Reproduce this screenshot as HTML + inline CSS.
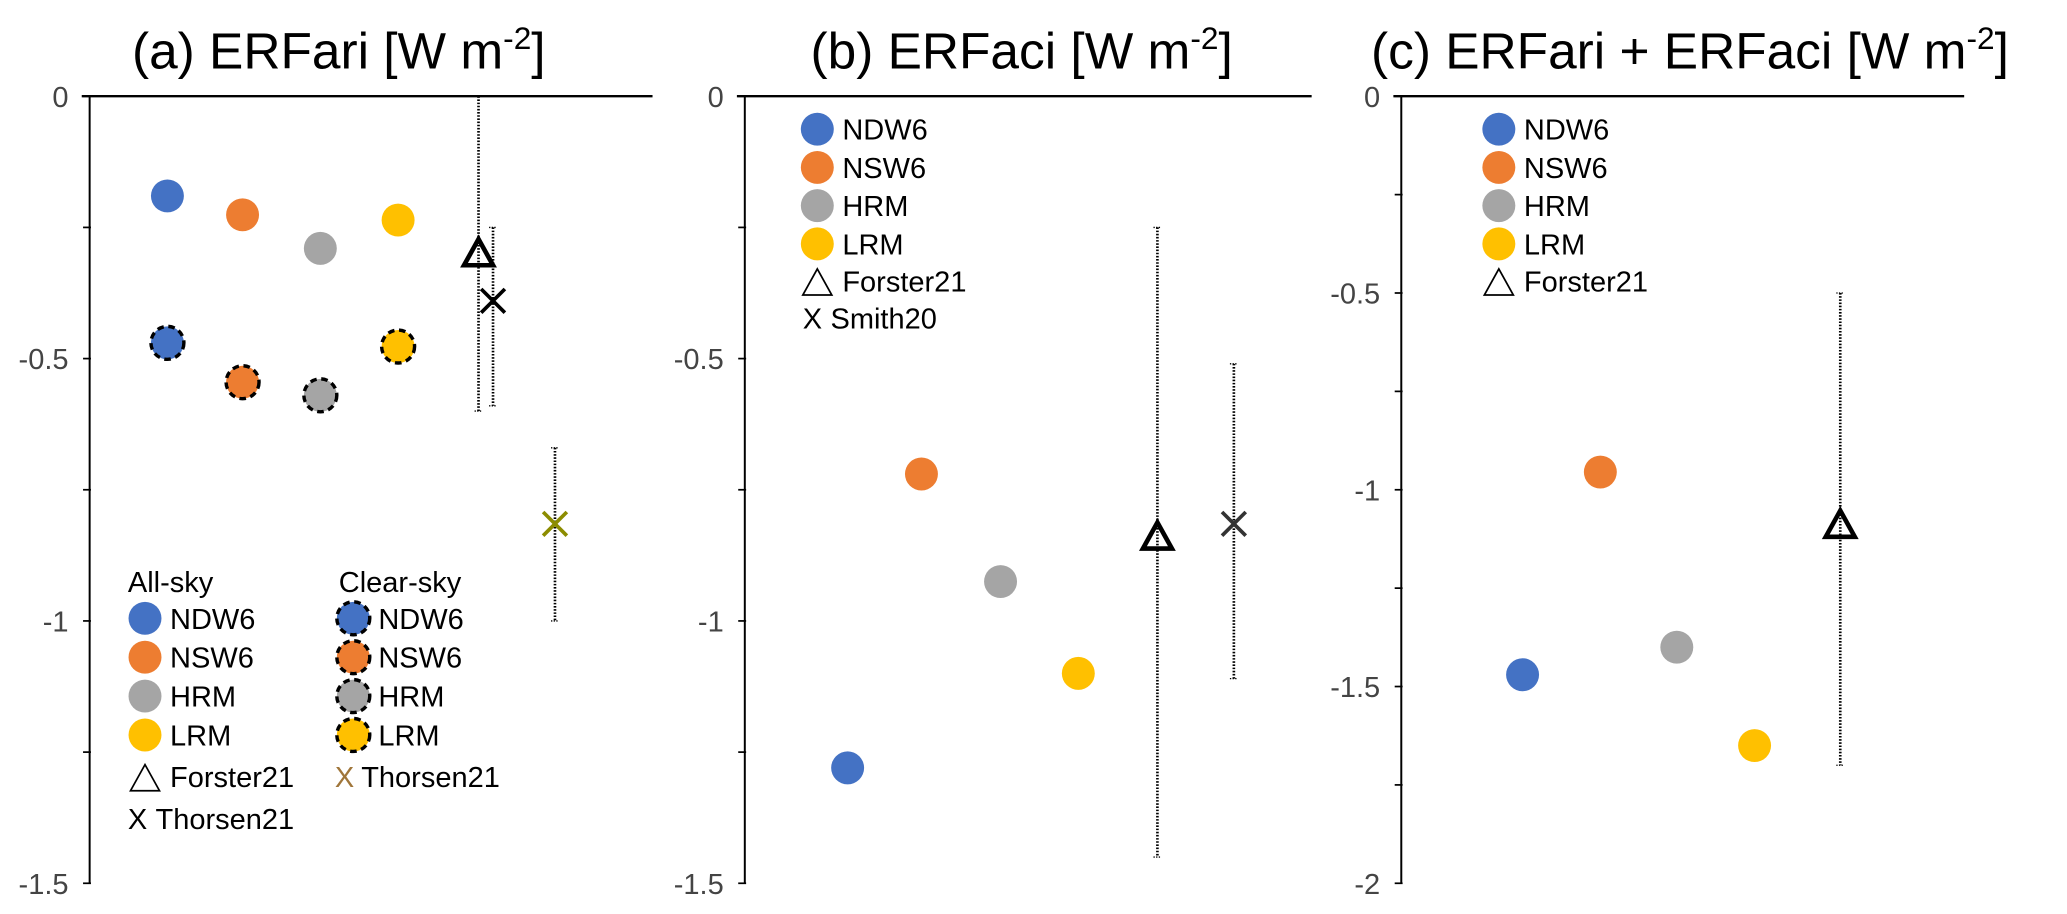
<!DOCTYPE html>
<html><head><meta charset="utf-8"><style>
html,body{margin:0;padding:0;background:#fff;}
svg{display:block;font-family:"Liberation Sans",Arial,sans-serif;}
</style></head><body>
<svg id="chart" width="2067" height="914" viewBox="0 0 1568 693.3" preserveAspectRatio="none" xmlns="http://www.w3.org/2000/svg">
</svg>
<script>
// ---- data ----
const models = ["NDW6","NSW6","HRM","LRM"];
const modelColors = ["#4472C4","#ED7D31","#A5A5A5","#FFC000"];
const ariAllSky = [-0.19,-0.226,-0.29,-0.236];
const ariClearSky = [-0.47,-0.545,-0.57,-0.477];
const ariForster = [-0.30,0.0,-0.60];   // value, hi, lo
const ariThorsenBlack = [-0.39,-0.25,-0.59];
const ariThorsenOlive = [-0.815,-0.67,-1.0];
const aciModels = [-1.28,-0.72,-0.925,-1.10];
const aciForster = [-0.84,-0.25,-1.45];
const aciSmith = [-0.815,-0.51,-1.11];
const totModels = [-1.47,-0.955,-1.40,-1.65];
const totForster = [-1.09,-0.5,-1.7];
const ticksAB = ["0","-0.5","-1","-1.5"];
const tickValsAB = [0,-0.5,-1,-1.5];
const ticksC = ["0","-0.5","-1","-1.5","-2"];
const tickValsC = [0,-0.5,-1,-1.5,-2];

const NS="http://www.w3.org/2000/svg";
const svg=document.getElementById('chart');
function mk(tag,attrs,parent){const e=document.createElementNS(NS,tag);for(const k in attrs)e.setAttribute(k,attrs[k]);(parent||svg).appendChild(e);return e;}

const yTop=73,yBot=670;
function yScale(min){return v=>yTop+(v/min)*(yBot-yTop);}

function panel(cfg){
  const g=mk('g',{});
  
  
  const y=yScale(cfg.min);
  const t=mk('text',{x:cfg.titleX,y:52,'font-size':39,'text-anchor':'middle',fill:'#000'},g);
  
  
  t.textContent=cfg.title+' [W m';
  const sup=mk('tspan',{'font-size':24,dy:-15},t);sup.textContent='-2';
  const cl=mk('tspan',{dy:15},t);cl.textContent=']';
  const tl=mk('line',{x1:cfg.ax-6,x2:cfg.right,y1:yTop,y2:yTop,stroke:'#000','stroke-width':1.8},g);
  
  
  const yl=mk('line',{x1:cfg.ax,x2:cfg.ax,y1:yTop,y2:yBot,stroke:'#000','stroke-width':1.5},g);
  
  
  for(let v=0;v>=cfg.min-1e-9;v-=0.25){
    const tk=mk('line',{x1:cfg.ax-5,x2:cfg.ax+1,y1:y(v),y2:y(v),stroke:'#000','stroke-width':1.3},g);
    
    
  }
  cfg.tickVals.forEach((v,i)=>{
    const tx=mk('text',{x:cfg.ax-16,y:y(v)+8,'font-size':22,'text-anchor':'end',fill:'#444'},g);
    
    
    tx.textContent=cfg.tickLabels[i];
  });
  return {g,y};
}
function errbar(g,x,y,d,name){
  const l=mk('line',{x1:x,x2:x,y1:y(d[1]),y2:y(d[2]),stroke:'#000','stroke-width':2,'stroke-dasharray':'1.2 1.2'},g);
  
  
  [d[1],d[2]].forEach(v=>{const c=mk('line',{x1:x-3,x2:x+3,y1:y(v),y2:y(v),stroke:'#000','stroke-width':1,'stroke-dasharray':'1 1'},g);
    
    });
}
function circle(g,x,cy,color,dashed,name){
  const c=mk('circle',{cx:x,cy:cy,r:12.5,fill:color},g);
  
  
  if(dashed){c.setAttribute('stroke','#000');c.setAttribute('stroke-width',2.6);c.setAttribute('stroke-dasharray','5 3.5');}
}
function tri(g,x,cy,name,sw,s){
  s=s||11;
  const p=mk('polygon',{points:`${x},${cy-s} ${x+s},${cy+s*0.8} ${x-s},${cy+s*0.8}`,fill:'none',stroke:'#000','stroke-width':sw||3.5,'stroke-linejoin':'miter'},g);
  
  
}
function cross(g,x,cy,color,name,s){
  s=s||9;
  const p=mk('path',{d:`M${x-s},${cy-s}L${x+s},${cy+s}M${x+s},${cy-s}L${x-s},${cy+s}`,stroke:color,'stroke-width':2.8,fill:'none'},g);
  
  
}
function ltext(g,x,y,s,name){
  const t=mk('text',{x:x,y:y+8,'font-size':22,fill:'#000'},g);
  
  
  t.textContent=s;
}

// ---- panel a ----
const A=panel({name:'panel-a-erfari',title:'(a) ERFari',titleX:257,ax:68,right:495,min:-1.5,tickVals:tickValsAB,tickLabels:ticksAB});
const xA=[127,184,243,302];
errbar(A.g,363,A.y,ariForster,'forster21');
errbar(A.g,374,A.y,ariThorsenBlack,'thorsen21');
errbar(A.g,421,A.y,ariThorsenOlive,'thorsen21-clear');
models.forEach((m,i)=>{circle(A.g,xA[i],A.y(ariAllSky[i]),modelColors[i],false,'point-allsky-'+m.toLowerCase());});
models.forEach((m,i)=>{circle(A.g,xA[i],A.y(ariClearSky[i]),modelColors[i],true,'point-clearsky-'+m.toLowerCase());});
tri(A.g,363,A.y(ariForster[0]),'point-forster21');
cross(A.g,374,A.y(ariThorsenBlack[0]),'#000','point-thorsen21');
cross(A.g,421,A.y(ariThorsenOlive[0]),'#8C8C00','point-thorsen21-clear');
const LA=mk('g',{});


ltext(LA,97,441,'All-sky','legend-allsky-header');
ltext(LA,257,441,'Clear-sky','legend-clearsky-header');
models.forEach((m,i)=>{
  const yy=469+i*29.5;
  circle(LA,110,yy,modelColors[i],false,'legend-allsky-marker');
  ltext(LA,129,yy,m,'legend-allsky-label');
  circle(LA,268,yy,modelColors[i],true,'legend-clearsky-marker');
  ltext(LA,287,yy,m,'legend-clearsky-label');
});
tri(LA,110,591,'legend-forster21-marker',1.3,11);
ltext(LA,129,589,'Forster21','legend-forster21-label');
ltext(LA,97,621,'X','legend-thorsen21-marker');
ltext(LA,118,621,'Thorsen21','legend-thorsen21-label');
const bx=mk('text',{x:254,y:597,'font-size':22,fill:'#A0763A'},LA);bx.textContent='X';


ltext(LA,274,589,'Thorsen21','legend-thorsen21-clear-label');

// ---- panel b ----
const B=panel({name:'panel-b-erfaci',title:'(b) ERFaci',titleX:775,ax:565,right:995,min:-1.5,tickVals:tickValsAB,tickLabels:ticksAB});
const xB=[643,699,759,818];
errbar(B.g,878,B.y,aciForster,'forster21');
errbar(B.g,936,B.y,aciSmith,'smith20');
models.forEach((m,i)=>circle(B.g,xB[i],B.y(aciModels[i]),modelColors[i],false,'point-'+m.toLowerCase()));
tri(B.g,878,B.y(aciForster[0]),'point-forster21');
cross(B.g,936,B.y(aciSmith[0]),'#333','point-smith20');
function modelLegend(g,x){
  models.forEach((m,i)=>{const yy=98+i*29;circle(g,x,yy,modelColors[i],false,'legend-marker');ltext(g,x+19,yy,m,'legend-label');});
  tri(g,x,215,'legend-forster21-marker',1.3,11);
  ltext(g,x+19,213,'Forster21','legend-forster21-label');
}
const LB=mk('g',{});


modelLegend(LB,620);
ltext(LB,609,241,'X','legend-smith20-marker');
ltext(LB,630,241,'Smith20','legend-smith20-label');

// ---- panel c ----
const C=panel({name:'panel-c-erfari-plus-erfaci',title:'(c) ERFari + ERFaci',titleX:1282,ax:1063,right:1490,min:-2,tickVals:tickValsC,tickLabels:ticksC});
const xC=[1155,1214,1272,1331];
errbar(C.g,1396,C.y,totForster,'forster21');
models.forEach((m,i)=>circle(C.g,xC[i],C.y(totModels[i]),modelColors[i],false,'point-'+m.toLowerCase()));
tri(C.g,1396,C.y(totForster[0]),'point-forster21');
const LC=mk('g',{});


modelLegend(LC,1137);
</script>
</body></html>
